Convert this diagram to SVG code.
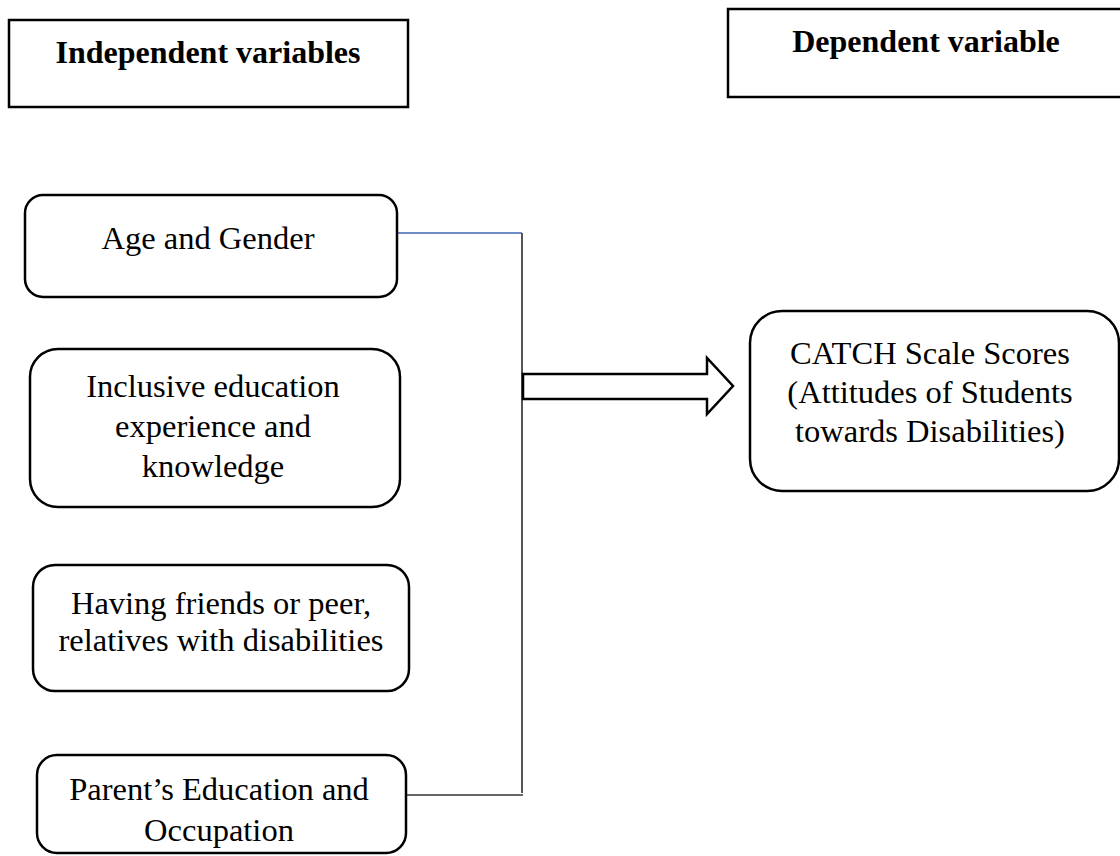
<svg xmlns="http://www.w3.org/2000/svg" width="1120" height="856" viewBox="0 0 1120 856">
<style>
.hdr{fill:#fff;stroke:#000;stroke-width:2.5}
.node{fill:#fff;stroke:#000;stroke-width:2.5}
.t{font-family:"Liberation Serif","Times New Roman","DejaVu Serif",serif;font-size:32.5px;fill:#000;text-anchor:middle}
.b{font-family:"Liberation Serif","Times New Roman","DejaVu Serif",serif;font-size:32px;font-weight:bold;fill:#000;text-anchor:middle}
</style>
<rect width="1120" height="856" fill="#fff"/>
<g id="hdr-independent">
<rect class="hdr" x="9" y="20" width="399" height="87"/>
<text class="b" x="208" y="63">Independent variables</text>
</g>
<g id="hdr-dependent">
<rect class="hdr" x="728" y="9" width="400" height="88"/>
<text class="b" x="926" y="52">Dependent variable</text>
</g>
<g id="connectors">
<line x1="397" y1="233" x2="522" y2="233" stroke="#3F67B0" stroke-width="1.3"/>
<line x1="522" y1="233" x2="522" y2="793" stroke="#555" stroke-width="2"/>
<line x1="406" y1="795" x2="523" y2="795" stroke="#333" stroke-width="1.5"/>
<polygon points="523,374 707,374 707,358 733,386 707,414 707,399 523,399" fill="#fff" stroke="#000" stroke-width="2.5" stroke-linejoin="miter"/>
</g>
<g id="age-gender">
<rect class="node" x="25" y="195" width="372" height="102" rx="18"/>
<text class="t" x="208" y="249">Age and Gender</text>
</g>
<g id="inclusive">
<rect class="node" x="30" y="349" width="370" height="158" rx="28"/>
<text class="t" x="213" y="397">Inclusive education</text>
<text class="t" x="213" y="437">experience and</text>
<text class="t" x="213" y="477">knowledge</text>
</g>
<g id="friends">
<rect class="node" x="33" y="565" width="376" height="126" rx="22"/>
<text class="t" x="221" y="614">Having friends or peer,</text>
<text class="t" x="221" y="651">relatives with disabilities</text>
</g>
<g id="parents">
<rect class="node" x="37" y="755" width="369" height="98" rx="20"/>
<text class="t" x="219" y="800">Parent’s Education and</text>
<text class="t" x="219" y="841">Occupation</text>
</g>
<g id="catch">
<rect class="node" x="750" y="311" width="369" height="180" rx="32"/>
<text class="t" x="930" y="364">CATCH Scale Scores</text>
<text class="t" x="930" y="403">(Attitudes of Students</text>
<text class="t" x="930" y="442">towards Disabilities)</text>
</g>
</svg>
